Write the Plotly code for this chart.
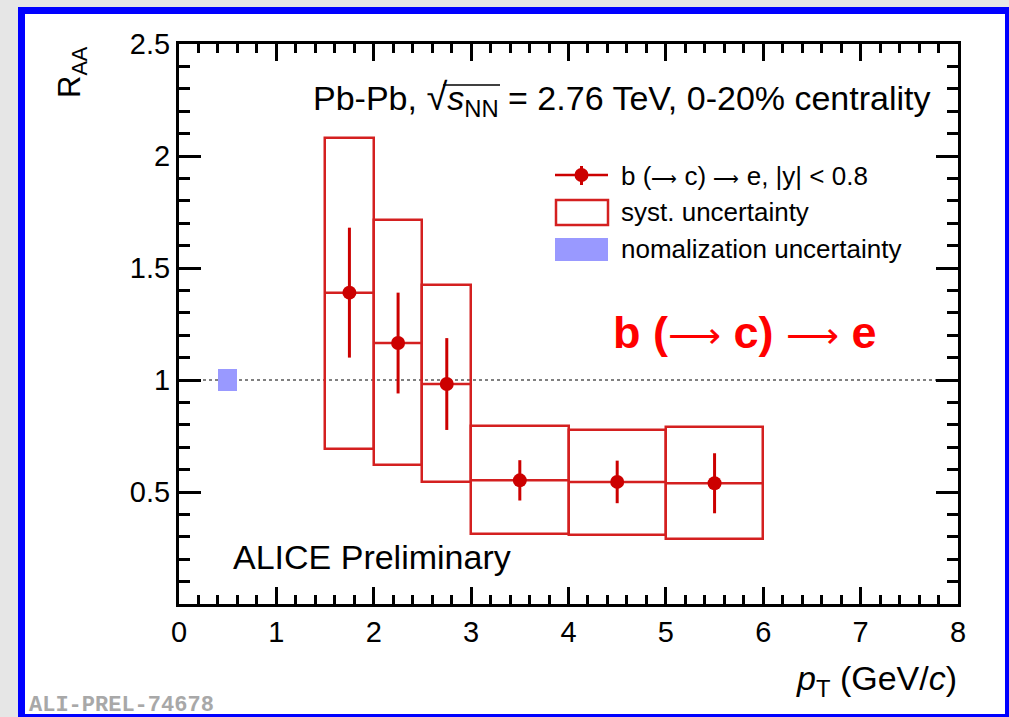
import plotly.graph_objects as go

# --- measurement: b (-> c) -> e R_AA, Pb-Pb 2.76 TeV, 0-20% ---
pt_lo = [1.5, 2.0, 2.5, 3.0, 4.0, 5.0]
pt_hi = [2.0, 2.5, 3.0, 4.0, 5.0, 6.0]
raa = [1.39, 1.165, 0.982, 0.552, 0.545, 0.539]
stat_err = [0.29, 0.225, 0.205, 0.09, 0.095, 0.134]
syst_lo = [0.692, 0.62, 0.545, 0.311, 0.308, 0.289]
syst_hi = [2.079, 1.714, 1.424, 0.796, 0.775, 0.792]

# global normalization uncertainty drawn at unity
norm_x = [0.5]
norm_halfwidth = 0.1
norm_err = 0.047

x_tickvals = [0, 1, 2, 3, 4, 5, 6, 7, 8]
x_ticktext = ["0", "1", "2", "3", "4", "5", "6", "7", "8"]
y_tickvals = [0.5, 1.0, 1.5, 2.0, 2.5]
y_ticktext = ["0.5", "1", "1.5", "2", "2.5"]

W, H = 1009, 717
L, R, T, B = 179, 51, 44, 113
PW, PH = W - L - R, H - T - B

RED = "#cc0000"
BOX_RED = "#d42020"
BLUE_FILL = "#9999ff"
FONT = "Liberation Sans"


def long_arrow(size):
    return f"<span style='font-weight:normal;font-size:{size}px'>⟶</span>"


def px(x):
    return (x - L) / PW


def py(y):
    return (H - B - y) / PH


pt_c = [(a + b) / 2 for a, b in zip(pt_lo, pt_hi)]
pt_w = [b - a for a, b in zip(pt_lo, pt_hi)]
pt_half = [w / 2 for w in pt_w]

fig = go.Figure()

# normalization box
fig.add_trace(go.Bar(
    x=norm_x, y=[2 * norm_err], base=[1 - norm_err], width=[2 * norm_halfwidth],
    marker=dict(color=BLUE_FILL, line=dict(width=0)), showlegend=False,
    hoverinfo="skip",
))

# systematic uncertainty boxes
fig.add_trace(go.Bar(
    x=pt_c, y=[h - l for h, l in zip(syst_hi, syst_lo)], base=syst_lo, width=pt_w,
    marker=dict(color="rgba(0,0,0,0)", line=dict(color=BOX_RED, width=2.5)),
    showlegend=False,
))

# central values with statistical errors
fig.add_trace(go.Scatter(
    x=pt_c, y=raa, mode="markers",
    marker=dict(color=RED, size=14, symbol="circle"),
    error_x=dict(type="data", array=pt_half, color=BOX_RED, thickness=2.5, width=0),
    error_y=dict(type="data", array=stat_err, color=RED, thickness=3, width=0),
    showlegend=False,
))

shapes = [
    # framed page
    dict(type="rect", xref="paper", yref="paper",
         x0=px(21.5), x1=px(1008.5), y0=py(717.5), y1=py(10.5),
         line=dict(color="#0000ff", width=7), fillcolor="white", layer="below"),
    # reference line at unity
    dict(type="line", xref="x", yref="y", x0=0, x1=8, y0=1, y1=1,
         line=dict(color="#808080", width=2, dash="dot"), layer="below"),
    # bar of the square root in the header
    dict(type="line", xref="paper", yref="paper",
         x0=px(443), x1=px(500), y0=py(85), y1=py(85),
         line=dict(color="black", width=1.5)),
    # legend symbols
    dict(type="line", xref="paper", yref="paper",
         x0=px(555), x1=px(608), y0=py(175), y1=py(175),
         line=dict(color=RED, width=2.5)),
    dict(type="line", xref="paper", yref="paper",
         x0=px(581.5), x1=px(581.5), y0=py(166), y1=py(185),
         line=dict(color=RED, width=3)),
    dict(type="circle", xref="paper", yref="paper",
         x0=px(574.5), x1=px(588.5), y0=py(182), y1=py(168),
         line=dict(color=RED, width=0), fillcolor=RED),
    dict(type="rect", xref="paper", yref="paper",
         x0=px(556), x1=px(608), y0=py(225), y1=py(200),
         line=dict(color=BOX_RED, width=2.5)),
    dict(type="rect", xref="paper", yref="paper",
         x0=px(555), x1=px(608), y0=py(261), y1=py(238),
         line=dict(width=0), fillcolor=BLUE_FILL),
]

annotations = [
    dict(text="Pb-Pb, <span style='font-size:38px'>√</span><i>s</i><sub>NN</sub> = 2.76 TeV, 0-20% centrality",
         x=px(933), y=py(99), xanchor="right", yanchor="middle",
         font=dict(size=34, color="black", family=FONT)),
    dict(text=f"b ({long_arrow(18)} c) {long_arrow(18)} e, |y| &lt; 0.8", x=px(619), y=py(176),
         xanchor="left", yanchor="middle",
         font=dict(size=26, color="black", family=FONT)),
    dict(text="syst. uncertainty", x=px(619), y=py(212), xanchor="left", yanchor="middle",
         font=dict(size=26, color="black", family=FONT)),
    dict(text="nomalization uncertainty", x=px(619), y=py(249), xanchor="left", yanchor="middle",
         font=dict(size=26, color="black", family=FONT)),
    dict(text=f"<b>b ({long_arrow(37)} c) {long_arrow(37)} e</b>", x=px(611), y=py(333),
         xanchor="left", yanchor="middle",
         font=dict(size=45, color="#ff0000", family=FONT)),
    dict(text="ALICE Preliminary", x=px(231), y=py(557), xanchor="left", yanchor="middle",
         font=dict(size=34, color="black", family=FONT)),
    dict(text="R<sub>AA</sub>", x=px(72), y=py(72), xanchor="center", yanchor="middle",
         textangle=-90, font=dict(size=31, color="black", family=FONT)),
    dict(text="<i>p</i><sub>T</sub> (GeV/<i>c</i>)", x=px(959), y=py(680),
         xanchor="right", yanchor="middle",
         font=dict(size=34, color="black", family=FONT)),
    dict(text="<b>ALI-PREL-74678</b>", x=px(27), y=py(705), xanchor="left", yanchor="middle",
         font=dict(size=22, color="#a8a8a8", family="Liberation Mono")),
]
for a in annotations:
    a.update(xref="paper", yref="paper", showarrow=False)

fig.update_layout(
    width=W, height=H,
    margin=dict(l=L, r=R, t=T, b=B, pad=0),
    paper_bgcolor="#e6e6e6",
    plot_bgcolor="white",
    barmode="overlay",
    bargap=0,
    showlegend=False,
    shapes=shapes,
    annotations=annotations,
    font=dict(family=FONT, color="black"),
)

fig.update_xaxes(
    range=[0, 8], tickvals=x_tickvals, ticktext=x_ticktext,
    ticks="inside", ticklen=17, tickwidth=2.5, tickcolor="black",
    minor=dict(dtick=0.2, ticks="inside", ticklen=9, tickwidth=2.5, tickcolor="black"),
    showline=True, linewidth=3, linecolor="black", mirror="allticks",
    showgrid=False, zeroline=False,
    tickfont=dict(size=29, family=FONT, color="black"),
)
fig.update_yaxes(
    range=[0, 2.5], tickvals=y_tickvals, ticktext=y_ticktext,
    ticks="inside", ticklen=22, tickwidth=2.5, tickcolor="black",
    minor=dict(dtick=0.1, ticks="inside", ticklen=11, tickwidth=2.5, tickcolor="black"),
    showline=True, linewidth=3, linecolor="black", mirror="allticks",
    showgrid=False, zeroline=False,
    tickfont=dict(size=29, family=FONT, color="black"),
)

fig.write_html("out.html")
